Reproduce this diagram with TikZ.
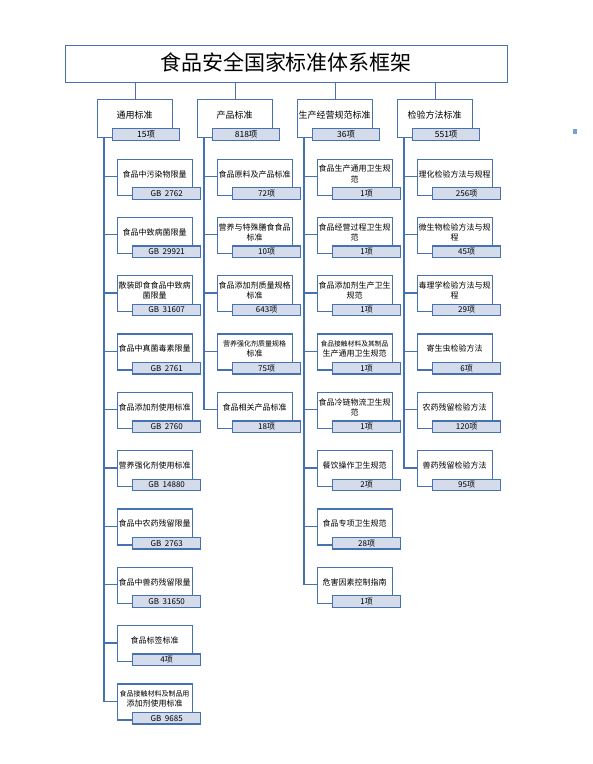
\documentclass[tikz,border=0pt]{standalone}
\usepackage{fontspec}
\setmainfont{Noto Sans CJK SC}
\begin{document}
\begin{tikzpicture}[x=1pt,y=-1pt,
  bl/.style={draw={rgb,255:red,70;green,114;blue,178}},
  conn/.style={draw={rgb,255:red,70;green,114;blue,178},line width=1.3pt},
  titlebox/.style={bl,line width=1.3pt,fill=white,minimum width=442pt,minimum height=37pt,inner sep=0pt,anchor=north west},
  catbox/.style={bl,line width=1.3pt,fill=white,minimum width=75pt,minimum height=38pt,inner sep=0pt,anchor=north west},
  cbox/.style={bl,line width=1.3pt,fill=white,minimum width=75pt,minimum height=36pt,inner sep=0pt,anchor=north west},
  lbox/.style={bl,line width=1.3pt,fill={rgb,255:red,212;green,220;blue,236},minimum width=68pt,minimum height=11.5pt,inner sep=0pt,anchor=north west,font=\fontsize{8}{9}\selectfont},
  ctext/.style={align=center,inner sep=0pt,font=\fontsize{8}{10.5}\selectfont},
  cattext/.style={inner sep=0pt,font=\fontsize{9}{11}\selectfont}]
\useasboundingbox (0,0) rectangle (593,764);
% title
\node[titlebox] (title) at (65,45) {};
\node[inner sep=0pt,font=\fontsize{21}{24}\selectfont] (titlet) at (286,62) {食品安全国家标准体系框架};
% small icon at right
\node[fill={rgb,255:red,120;green,160;blue,215},minimum width=4pt,minimum height=5pt,inner sep=0pt] (icon) at (575,131) {};
% categories
\foreach \c/\t/\l [count=\k] in {1/通用标准/15项,2/产品标准/818项,3/生产经营规范标准/36项,4/检验方法标准/551项}{
  \pgfmathsetmacro{\xo}{97+100*(\k-1)}
  \node[catbox] (cat\c) at (\xo,99) {};
  \node[cattext] (cat\c t) at ({\xo+37.5},115) {\t};
  \node[lbox,minimum width=67pt,minimum height=12pt,font=\fontsize{8.5}{9}\selectfont] (cat\c l) at ({\xo+15},128) {\l};
  \draw[conn] (cat\c.north) -- (cat\c.north |- title.south);
}
% children macro
\newcommand{\mychildren}[2]{%
  \foreach \t/\l [count=\i] in {#2}{
    \pgfmathsetmacro{\xo}{117+100*(#1-1)}
    \pgfmathsetmacro{\yo}{158.5+58.3*(\i-1)}
    \draw[conn] ([xshift=7pt]cat#1.south west) |- ({\xo},{\yo+18}) coordinate (j#1-\i);
    \node[cbox] (c#1-\i) at (\xo,\yo) {};
    \node[ctext] (c#1-\i t) at ({\xo+37.5},{\yo+15.5}) {\t};
    \node[lbox] (c#1-\i l) at ({\xo+15},{\yo+28.5}) {\l};
  }%
}
\mychildren{1}{食品中污染物限量/GB\ \ 2762,食品中致病菌限量/GB\ \ 29921,{散装即食食品中致病\\菌限量}/GB\ \ 31607,食品中真菌毒素限量/GB\ \ 2761,食品添加剂使用标准/GB\ \ 2760,营养强化剂使用标准/GB\ \ 14880,食品中农药残留限量/GB\ \ 2763,食品中兽药残留限量/GB\ \ 31650,食品标签标准/4项,{\fontsize{7}{9.5}\selectfont 食品接触材料及制品用\\添加剂使用标准}/GB\ \ 9685}
\mychildren{2}{食品原料及产品标准/72项,{营养与特殊膳食食品\\标准}/10项,{食品添加剂质量规格\\标准}/643项,{\fontsize{7}{9.5}\selectfont 营养强化剂质量规格\\标准}/75项,食品相关产品标准/18项}
\mychildren{3}{{食品生产通用卫生规\\范}/1项,{食品经营过程卫生规\\范}/1项,{食品添加剂生产卫生\\规范}/1项,{\fontsize{6.8}{9}\selectfont 食品接触材料及其制品\\生产通用卫生规范}/1项,{食品冷链物流卫生规\\范}/1项,餐饮操作卫生规范/2项,食品专项卫生规范/28项,危害因素控制指南/1项}
\mychildren{4}{理化检验方法与规程/256项,{微生物检验方法与规\\程}/45项,{毒理学检验方法与规\\程}/29项,寄生虫检验方法/6项,农药残留检验方法/120项,兽药残留检验方法/95项}
\end{tikzpicture}
\end{document}
